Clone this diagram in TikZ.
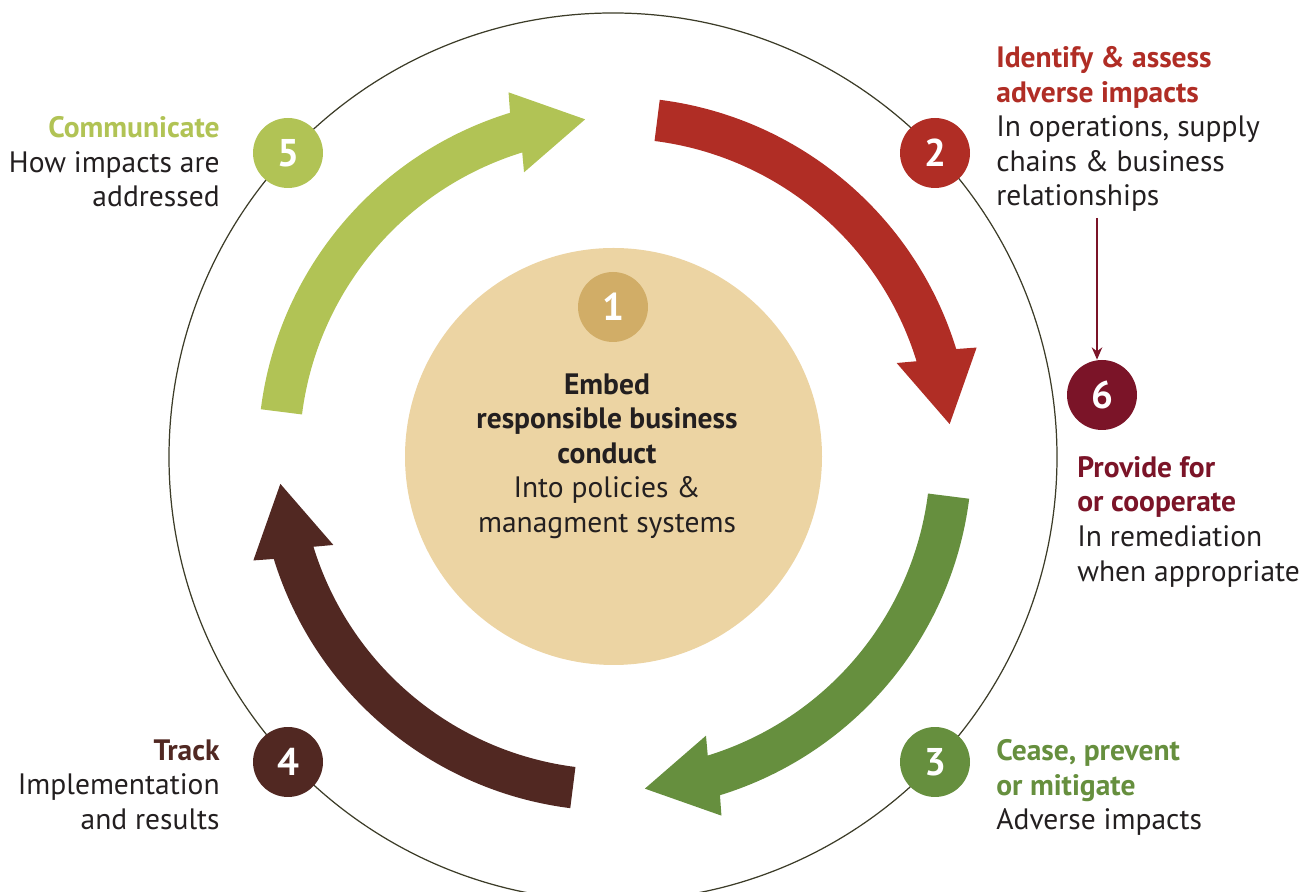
\documentclass[tikz,border=0pt]{standalone}
\usepackage{fontspec}
\setmainfont{PT Sans}
\usetikzlibrary{arrows.meta}
\definecolor{stepRed}{HTML}{B02D25}
\definecolor{stepWine}{HTML}{7B1428}
\definecolor{stepGreen}{HTML}{668F3E}
\definecolor{stepLime}{HTML}{B1C355}
\definecolor{stepBrown}{HTML}{512822}
\definecolor{coreSand}{HTML}{ECD4A3}
\definecolor{coreGold}{HTML}{D1AD67}
\definecolor{inkGray}{HTML}{231F20}
\definecolor{ringLine}{HTML}{3C3C28}
% thick ring arrow: colour, angle of the tip
\newcommand{\ringArrow}[2]{%
  \fill[#1] ({#2+77.7}:357) arc[start angle={#2+77.7}, end angle={#2+12}, radius=357]
    -- ({#2+11.3}:377) -- (#2:336) -- ({#2+12.8}:296) -- ({#2+12}:315.5)
    arc[start angle={#2+12}, end angle={#2+77.7}, radius=315.5] -- cycle;}

\begin{document}
\begin{tikzpicture}[x=0.02cm, y=0.02cm,
  numDot/.style={circle, minimum size=1.4cm, inner sep=0pt, text=white, font=\fontsize{22}{26}\selectfont\bfseries},
  stepText/.style={inner sep=0pt, text=inkGray, font=\fontsize{16.8}{19.7}\selectfont}]
  \useasboundingbox (0,0) rectangle (1302,892);
  \draw[ringLine, line width=0.7pt] (613,435) circle[radius=444];

  % the four stages round the ring
  \begin{scope}[shift={(615,438)}]
    \ringArrow{stepRed}{5.1}
    \ringArrow{stepGreen}{-84.9}
    \ringArrow{stepBrown}{-174.9}
    \ringArrow{stepLime}{95.1}
  \end{scope}

  \fill[coreSand] (613.5,435.5) circle[radius=208.5];
  \node[numDot, fill=coreGold] (One) at (613,585) {1};
  \node[stepText, align=center, anchor=north] (Embed) at (607,519)
    {\textbf{Embed}\\ \textbf{responsible business}\\ \textbf{conduct}\\ Into policies \&\\ managment systems};

  \node[numDot, fill=stepRed] (Two) at (935,739) {2};
  \node[numDot, fill=stepGreen] (Three) at (935,130) {3};
  \node[numDot, fill=stepBrown] (Four) at (288,130) {4};
  \node[numDot, fill=stepLime] (Five) at (288,739) {5};
  \node[numDot, fill=stepWine] (Six) at (1102,497) {6};

  \node[stepText, align=left, anchor=north west] (Identify) at (996,846)
    {\textcolor{stepRed}{\textbf{Identify \& assess}}\\ \textcolor{stepRed}{\textbf{adverse impacts}}\\ In operations, supply\\ chains \& business\\ relationships};
  \node[stepText, align=left, anchor=north west] (Provide) at (1077,436)
    {\textcolor{stepWine}{\textbf{Provide for}}\\ \textcolor{stepWine}{\textbf{or cooperate}}\\ In remediation\\ when appropriate};
  \node[stepText, align=left, anchor=north west] (Cease) at (996,153)
    {\textcolor{stepGreen}{\textbf{Cease, prevent}}\\ \textcolor{stepGreen}{\textbf{or mitigate}}\\ Adverse impacts};
  \node[stepText, align=right, anchor=north east] (Track) at (220,153)
    {\textcolor{stepBrown}{\textbf{Track}}\\ Implementation\\ and results};
  \node[stepText, align=right, anchor=north east] (Communicate) at (220,776)
    {\textcolor{stepLime}{\textbf{Communicate}}\\ How impacts are\\ addressed};

  \coordinate (toSix) at (1097,674);
  \draw[stepWine, line width=0.9pt, -{Stealth[length=7pt, width=6pt]}] (toSix) -- (toSix |- Six.north);
\end{tikzpicture}
\end{document}
